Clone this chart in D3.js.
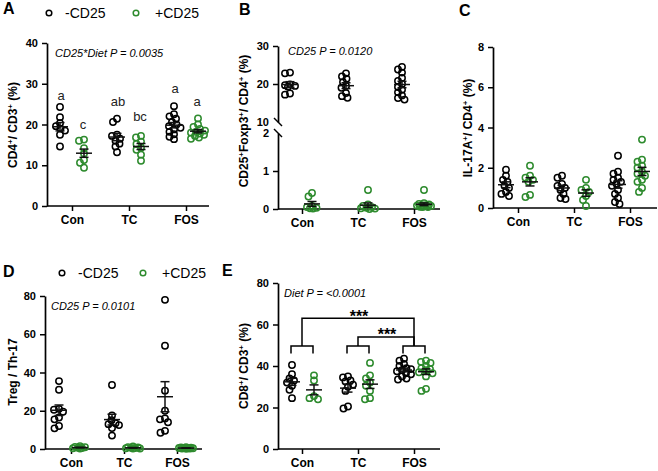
<!DOCTYPE html>
<html>
<head>
<meta charset="utf-8">
<script src="https://cdn.jsdelivr.net/npm/d3@7"></script>
<style>
body { margin: 0; background: #fff; }
text { font-family: "Liberation Sans", Arial, sans-serif; }
</style>
</head>
<body>
<svg id="chart" width="658" height="471"></svg>
<script>
var svg = d3.select('#chart');
const groups = ["Con", "TC", "FOS"];
const GREEN = "#2e8b2e";

// A: CD4+/CD3+ (%)
const aNeg = [
    [24.3, 21.8, 20.3, 19.6, 19.0, 18.5, 17.5, 14.6],
    [21.4, 20.6, 17.5, 17.2, 16.5, 16.0, 15.3, 14.6, 13.2],
    [24.5, 22.5, 22.0, 21.4, 20.6, 20.0, 19.6, 19.2, 18.8, 18.2, 17.6, 17.0, 16.4]
];
const aPos = [
    [16.3, 16.0, 14.2, 12.9, 11.3, 10.6, 9.4],
    [17.2, 16.8, 15.8, 15.2, 14.3, 13.8, 12.6, 11.1],
    [21.5, 20.0, 19.4, 18.9, 18.5, 18.2, 18.0, 17.8, 17.5, 17.2, 16.8, 16.5]
];
const aLetters = [
    {g: "Con", side: -1, v: 26, t: "a"}, {g: "Con", side: 1, v: 18.8, t: "c"},
    {g: "TC", side: -1, v: 24.5, t: "ab"}, {g: "TC", side: 1, v: 20.8, t: "bc"},
    {g: "FOS", side: -1, v: 27.7, t: "a"}, {g: "FOS", side: 1, v: 24.5, t: "a"}
];

// B: CD25+Foxp3+/CD4+ (%)
const bNeg = [
    [23.0, 22.8, 19.9, 19.7, 19.5, 19.3, 17.5, 17.2],
    [22.8, 22.0, 21.4, 20.5, 19.5, 19.0, 17.6, 16.8, 16.4],
    [24.5, 23.8, 23.0, 21.6, 20.8, 20.0, 19.2, 18.5, 17.8, 17.0, 16.3, 15.9]
];
const bPos = [
    [0.42, 0.33, 0.08, 0.05, 0.03, 0.02, 0.01],
    [0.50, 0.12, 0.08, 0.05, 0.03, 0.02, 0.01, 0.0],
    [0.50, 0.15, 0.13, 0.12, 0.10, 0.10, 0.09, 0.08, 0.07, 0.06, 0.05, 0.05]
];

// C: IL-17A+/CD4+ (%)
const cNeg = [
    [1.9, 1.6, 1.4, 1.3, 1.1, 1.0, 0.8, 0.7, 0.6],
    [1.6, 1.5, 1.2, 1.1, 1.0, 0.9, 0.7, 0.5, 0.45],
    [2.6, 1.8, 1.7, 1.5, 1.4, 1.3, 1.2, 1.1, 0.9, 0.7, 0.5, 0.3, 0.2]
];
const cPos = [
    [2.1, 1.6, 1.5, 1.4, 1.3, 0.65, 0.55],
    [1.4, 1.0, 0.9, 0.8, 0.6, 0.4, 0.1],
    [3.4, 2.4, 2.3, 2.1, 2.0, 1.8, 1.7, 1.6, 1.4, 1.3, 1.0, 0.8]
];

// D: Treg / Th-17
const dNeg = [
    [35.5, 31, 21, 20.5, 19.5, 16.5, 15.5, 12, 10.8],
    [33.5, 17.5, 15, 13.5, 13, 12.5, 11, 7],
    [78, 54, 30.5, 20, 16, 15.5, 14, 9.5, 8.5]
];
const dPos = [
    [1.4, 1.1, 0.9, 0.7, 0.5, 0.4, 0.3],
    [1.3, 1.0, 0.8, 0.6, 0.5, 0.4, 0.3, 0.2],
    [0.9, 0.8, 0.7, 0.6, 0.5, 0.5, 0.4, 0.4, 0.3, 0.3, 0.2, 0.2]
];

// E: CD8+/CD3+ (%)
const eNeg = [
    [40.5, 36, 34, 33, 32, 30.5, 28.5, 24.5],
    [35, 34.5, 33, 32.5, 31, 30, 28, 20.5, 19.5],
    [43.5, 42.5, 41, 40, 39, 38.5, 38, 37.5, 36.5, 36, 35, 34, 33.5]
];
const ePos = [
    [35.5, 33, 25.5, 24.5, 24],
    [41.5, 35.5, 34, 32, 30.5, 28, 24.5, 24],
    [42.5, 42, 41.5, 40, 39, 38.5, 38, 37, 36.5, 35, 29, 28]
];
const eSig = [
    {from: "Con", to: "FOS", level: 63, label: "***"},
    {from: "TC", to: "FOS", level: 54, label: "***"}
];

// narrow beeswarm: spread points sideways a little, overlap allowed when the column is full
const swarm = (vals, cx, y) => {
    const minD = 4.8, maxOff = 7;
    const placed = [];
    vals.slice().sort((a, b) => b - a).forEach(v => {
        const py = y(v);
        var best = null, bestD = -1;
        for (var k = 0; k <= maxOff * 4; k++) {
            const off = (k % 2 === 0 ? 1 : -1) * Math.ceil(k / 2) * 0.5;
            const px = cx + off;
            const dmin = placed.length ? d3.min(placed, p => Math.hypot(p.x - px, p.y - py)) : 99;
            if (dmin >= minD) { best = px; break; }
            if (dmin > bestD + 0.3) { bestD = dmin; best = px; }
        }
        placed.push({x: best, y: py, v: v});
    });
    return placed;
};

const styleAxis = (ax) => {
    ax.select('.domain').attr('stroke-width', 1.7);
    ax.selectAll('.tick line').attr('stroke-width', 1.5);
    ax.selectAll('.tick text').style('font-size', '11px').style('font-weight', 'bold').attr('fill', '#000');
};

const yLabel = (x, y, parts) => {
    const t = svg.append('text')
        .attr('transform', 'translate(' + x + ',' + y + ') rotate(-90)')
        .attr('text-anchor', 'middle')
        .style('font-size', '12px').style('font-weight', 'bold');
    var afterSup = false;
    parts.forEach(p => {
        if (p === '+') {
            t.append('tspan').text('+').attr('dy', -4).style('font-size', '8px');
            afterSup = true;
        } else {
            const s = t.append('tspan').text(p);
            if (afterSup) s.attr('dy', 4);
            afterSup = false;
        }
    });
};

const panel = (p) => {
    const x = d3.scalePoint().domain(groups).range(p.xr);
    const y = p.yfn;

    // y axis
    p.yaxes.forEach(a => {
        const ax = svg.append('g')
            .attr('transform', 'translate(' + p.ax + ',0)')
            .call(d3.axisLeft(a.scale).tickValues(a.ticks).tickFormat(d3.format('d'))
                .tickSize(5).tickPadding(4).tickSizeOuter(0));
        styleAxis(ax);
        if (a.noTick) ax.selectAll('.tick line').filter(d => a.noTick.includes(d)).remove();
    });

    // x axis
    const xa = svg.append('g')
        .attr('transform', 'translate(0,' + p.base + ')')
        .call(d3.axisBottom(x).tickSize(5).tickPadding(4).tickSizeOuter(0));
    xa.select('.domain').remove();
    xa.selectAll('.tick line').attr('stroke-width', 1.5);
    xa.selectAll('.tick text').style('font-size', '12px').style('font-weight', 'bold').attr('fill', '#000');
    svg.append('line').attr('x1', p.ax).attr('x2', p.xEnd).attr('y1', p.base).attr('y2', p.base)
        .attr('stroke', '#000').attr('stroke-width', 1.7);

    // points + mean/SEM
    [[p.neg, p.off[0], '#000'], [p.pos, p.off[1], GREEN]].forEach(([sets, off, col]) => {
        sets.forEach((vals, i) => {
            const cx = x(groups[i]) + off;
            const pts = swarm(vals, cx, y);
            svg.append('g').selectAll('circle').data(pts).enter().append('circle')
                .attr('cx', d => d.x).attr('cy', d => d.y).attr('r', 3.2)
                .attr('fill', 'none').attr('stroke', col).attr('stroke-width', 1.5);
            const m = d3.mean(vals);
            const se = d3.deviation(vals) / Math.sqrt(vals.length);
            const g = svg.append('g').attr('stroke', '#111').attr('stroke-width', 1.5);
            g.append('line').attr('x1', cx - 8).attr('x2', cx + 8).attr('y1', y(m)).attr('y2', y(m));
            g.append('line').attr('x1', cx).attr('x2', cx).attr('y1', y(m - se)).attr('y2', y(m + se));
            g.append('line').attr('x1', cx - 4.5).attr('x2', cx + 4.5).attr('y1', y(m - se)).attr('y2', y(m - se));
            g.append('line').attr('x1', cx - 4.5).attr('x2', cx + 4.5).attr('y1', y(m + se)).attr('y2', y(m + se));
        });
    });

    if (p.note) {
        svg.append('text').text(p.note[0]).attr('x', p.note[1]).attr('y', p.note[2])
            .style('font-size', '11px').style('font-style', 'italic');
    }
    svg.append('text').text(p.letter[0]).attr('x', p.letter[1]).attr('y', p.letter[2])
        .style('font-size', '16px').style('font-weight', 'bold');
    return {x: x, y: y};
};

const legend = (y0, cx1, cx2) => {
    svg.append('circle').attr('cx', cx1).attr('cy', y0).attr('r', 2.8).attr('fill', 'none').attr('stroke', '#000').attr('stroke-width', 1.5);
    svg.append('text').text('-CD25').attr('x', cx1 + 16).attr('y', y0 + 5).style('font-size', '14px');
    svg.append('circle').attr('cx', cx2).attr('cy', y0).attr('r', 2.8).attr('fill', 'none').attr('stroke', GREEN).attr('stroke-width', 1.5);
    svg.append('text').text('+CD25').attr('x', cx2 + 19).attr('y', y0 + 5).style('font-size', '14px');
};

// ---- A ----
const yA = d3.scaleLinear().domain([0, 40]).range([206, 43]);
const pA = panel({
    ax: 47, base: 206, xEnd: 209, xr: [72, 186], yfn: yA,
    yaxes: [{scale: yA, ticks: [0, 10, 20, 30, 40]}],
    neg: aNeg, pos: aPos, off: [-12, 12],
    note: ['CD25*Diet P = 0.0035', 55, 57], letter: ['A', 3, 14]
});
aLetters.forEach(l => {
    svg.append('text').text(l.t).attr('x', pA.x(l.g) + l.side * 11).attr('y', yA(l.v))
        .attr('text-anchor', 'middle').style('font-size', '13px').attr('fill', '#222');
});
yLabel(17, 125, ['CD4', '+', '/ CD3', '+', ' (%)']);
legend(13, 49, 136);

// ---- B (broken axis) ----
const yBlo = d3.scaleLinear().domain([0, 2]).range([209, 133]);
const yBhi = d3.scaleLinear().domain([10, 30]).range([122, 46]);
const yB = v => v >= 10 ? yBhi(v) : yBlo(v);
panel({
    ax: 278, base: 209, xEnd: 440, xr: [302, 414], yfn: yB,
    yaxes: [{scale: yBhi, ticks: [10, 20, 30], noTick: [10]}, {scale: yBlo, ticks: [0, 1, 2], noTick: [2]}],
    neg: bNeg, pos: bPos, off: [-12, 10],
    note: ['CD25 P = 0.0120', 288, 55], letter: ['B', 239, 15]
});
[122, 133].forEach(yy => {
    svg.append('line').attr('x1', 274).attr('x2', 282).attr('y1', yy - 4).attr('y2', yy + 4)
        .attr('stroke', '#000').attr('stroke-width', 1.5);
});
yLabel(248, 121, ['CD25', '+', 'Foxp3', '+', '/ CD4', '+', ' (%)']);

// ---- C ----
const yC = d3.scaleLinear().domain([0, 8]).range([208, 47]);
panel({
    ax: 493, base: 208, xEnd: 657, xr: [518, 630], yfn: yC,
    yaxes: [{scale: yC, ticks: [0, 2, 4, 6, 8]}],
    neg: cNeg, pos: cPos, off: [-12, 12],
    letter: ['C', 459, 16]
});
yLabel(472, 128, ['IL-17A', '+', '/ CD4', '+', ' (%)']);

// ---- D ----
const yD = d3.scaleLinear().domain([0, 80]).range([449, 296]);
panel({
    ax: 45, base: 449, xEnd: 202, xr: [71, 177], yfn: yD,
    yaxes: [{scale: yD, ticks: [0, 20, 40, 60, 80]}],
    neg: dNeg, pos: dPos, off: [-12, 9],
    note: ['CD25 P = 0.0101', 51, 310], letter: ['D', 3, 277]
});
yLabel(17, 372, ['Treg / Th-17']);
legend(273, 62, 143);

// ---- E ----
const yE = d3.scaleLinear().domain([0, 80]).range([449, 283]);
const pE = panel({
    ax: 278, base: 449, xEnd: 440, xr: [302, 414], yfn: yE,
    yaxes: [{scale: yE, ticks: [0, 20, 40, 60, 80]}],
    neg: eNeg, pos: ePos, off: [-10, 12],
    note: ['Diet P = <0.0001', 284, 297], letter: ['E', 222, 276]
});
yLabel(248, 366, ['CD8', '+', '/ CD3', '+', ' (%)']);

// significance brackets
const br = svg.append('g').attr('stroke', '#000').attr('stroke-width', 1.5).attr('fill', 'none');
const legLo = 46, legHi = 49.6;
groups.forEach(g => {
    const cx = pE.x(g);
    br.append('path').attr('d', 'M' + (cx - 11) + ',' + yE(legLo) + 'V' + yE(legHi) + 'H' + (cx + 11) + 'V' + yE(legLo));
});
eSig.forEach(s => {
    const x1 = pE.x(s.from), x2 = pE.x(s.to);
    br.append('path').attr('d', 'M' + x1 + ',' + yE(legHi) + 'V' + yE(s.level) + 'H' + x2 + 'V' + yE(legHi));
    svg.append('text').text(s.label).attr('x', (x1 + x2) / 2 + 1).attr('y', yE(s.level + 2.3) + 8)
        .attr('text-anchor', 'middle').style('font-size', '16px').style('font-weight', 'bold');
});
</script>
</body>
</html>
